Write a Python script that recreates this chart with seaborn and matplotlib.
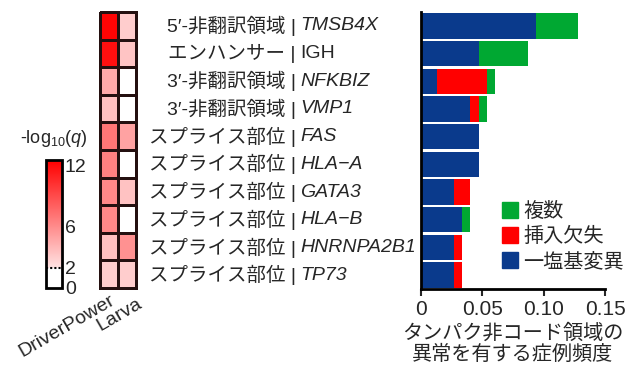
import numpy as np
import pandas as pd
import matplotlib
matplotlib.use('Agg')
from matplotlib import pyplot as plt
from matplotlib.colors import LinearSegmentedColormap
from matplotlib.patches import Patch
from matplotlib.ticker import FixedLocator
from matplotlib.transforms import ScaledTranslation
import seaborn as sns

# row labels, top to bottom
regions = ['5\u2032-非翻訳領域', 'エンハンサー', '3\u2032-非翻訳領域', '3\u2032-非翻訳領域',
           'スプライス部位', 'スプライス部位', 'スプライス部位', 'スプライス部位',
           'スプライス部位', 'スプライス部位']
genes = ['TMSB4X', 'IGH', 'NFKBIZ', 'VMP1', 'FAS', 'HLA\u2212A', 'GATA3', 'HLA\u2212B',
         'HNRNPA2B1', 'TP73']
gene_italic = [True, False, True, True, True, True, True, True, True, True]

# -log10(q) per method
driverpower = [12.3, 11.8, 4.6, 3.6, 7.0, 6.5, 6.2, 6.2, 3.6, 3.0]
larva = [3.0, 3.4, 0.5, 0.5, 5.0, 0.5, 3.5, 0.5, 5.8, 3.0]

# fraction of cases, by mutation type
snv = [0.094, 0.047, 0.0134, 0.0403, 0.047, 0.047, 0.0268, 0.0336, 0.0268, 0.0268]
indel = [0, 0, 0.0403, 0.0067, 0, 0, 0.0134, 0, 0.0067, 0.0067]
multi = [0.0336, 0.0403, 0.0067, 0.0067, 0, 0, 0, 0.0067, 0, 0]

type_labels = ['複数', '挿入欠失', '一塩基変異']
type_colors = ['#00a832', '#ff0000', '#0a3a8c']

sns.set_style('white')
plt.rcParams['font.family'] = ['Liberation Sans', 'Noto Sans CJK JP']
plt.rcParams['mathtext.fontset'] = 'custom'
plt.rcParams['mathtext.rm'] = 'Liberation Sans'
plt.rcParams['mathtext.it'] = 'Liberation Sans:italic'

W, H = 637, 377
fig = plt.figure(figsize=(W / 100, H / 100), dpi=100)

def box(x0, y0, x1, y1):
    return [x0 / W, 1 - y1 / H, (x1 - x0) / W, (y1 - y0) / H]

cax = fig.add_axes(box(46, 160, 62, 288))
hax = fig.add_axes(box(100, 12, 136, 288))
bax = fig.add_axes(box(421, 12, 605, 289))

# heatmap
vmax = 12.5
cmap = LinearSegmentedColormap.from_list(
    'q', [(0, 'white'), (2 / vmax, 'white'), (2 / vmax + 0.001, '#ffe2e2'), (1, '#ff0000')])
hm = pd.DataFrame({'DriverPower': driverpower, 'Larva': larva}, index=genes)
sns.heatmap(hm, ax=hax, cbar_ax=cax, cmap=cmap, vmin=0, vmax=vmax,
            linewidths=2, linecolor='#241010', xticklabels=True, yticklabels=False)
hax.collections[0].set_clip_on(False)
hax.set_xticklabels(['DriverPower', 'Larva'], rotation=30, ha='right',
                    rotation_mode='anchor', fontsize=14)
hax.tick_params(axis='x', length=0, pad=3)
hax.set_ylabel('')
# push "Larva" right so it clears the longer label
lab = hax.get_xticklabels()[1]
lab.set_transform(lab.get_transform() + ScaledTranslation(0.10, -0.03, fig.dpi_scale_trans))

# colorbar
cb = hax.collections[0].colorbar
cb.outline.set_edgecolor('black')
cb.outline.set_linewidth(2)
cax.set_yticks([0, 2, 6, 12])
cax.set_yticklabels(['0', '2', '6', '12'], fontsize=14)
cax.yaxis.set_minor_locator(FixedLocator([4, 6, 8, 10]))
cax.tick_params(which='major', right=True, left=False, direction='in', length=3,
                width=1.5, pad=2)
cax.tick_params(which='minor', left=True, right=False, direction='in', length=3, width=1.5,
                color='black')
cax.axhline(2, color='black', ls=(0, (1, 1)), lw=1.5, zorder=5)
cax.set_title('-log$_{10}$($q$)', fontsize=13, pad=12)

# stacked bars, drawn back to front
total_ri = [s + i for s, i in zip(snv, indel)]
total = [t + m for t, m in zip(total_ri, multi)]
for vals, col in zip([total, total_ri, snv], type_colors):
    sns.barplot(x=vals, y=genes, orient='h', color=col, width=0.92,
                saturation=1, linewidth=0, ax=bax)

bax.set_xlim(0, 0.15)
bax.set_xticks([0, 0.05, 0.10, 0.15])
bax.set_xticklabels(['0', '0.05', '0.10', '0.15'], fontsize=15)
bax.set_yticks([])
bax.set_ylabel('')
bax.set_xlabel('タンパク非コード領域の\n異常を有する症例頻度', fontsize=14.5, labelpad=3,
               linespacing=1.15)
sns.despine(ax=bax)
for s in ['left', 'bottom']:
    bax.spines[s].set_linewidth(2)
    bax.spines[s].set_color('black')
bax.tick_params(axis='x', bottom=True, direction='out', length=5, width=1.5, pad=3)

# row labels between heatmap and bars
trans = bax.get_yaxis_transform()
for i, (r, g, it) in enumerate(zip(regions, genes, gene_italic)):
    bax.text((296 - 421) / 184, i, r + ' |', ha='right', va='center', fontsize=14,
             transform=trans, clip_on=False)
    bax.text((300 - 421) / 184, i, g, ha='left', va='center', fontsize=14,
             style='italic' if it else 'normal', transform=trans, clip_on=False)

handles = [Patch(color=c, label=l) for c, l in zip(type_colors, type_labels)]
bax.legend(handles=handles, loc='lower right', bbox_to_anchor=(1.2, 0.0), frameon=False,
           fontsize=14.5, handlelength=0.8, handleheight=0.85, handletextpad=0.25,
           labelspacing=0.3)

fig.savefig('out.png', dpi=100)
